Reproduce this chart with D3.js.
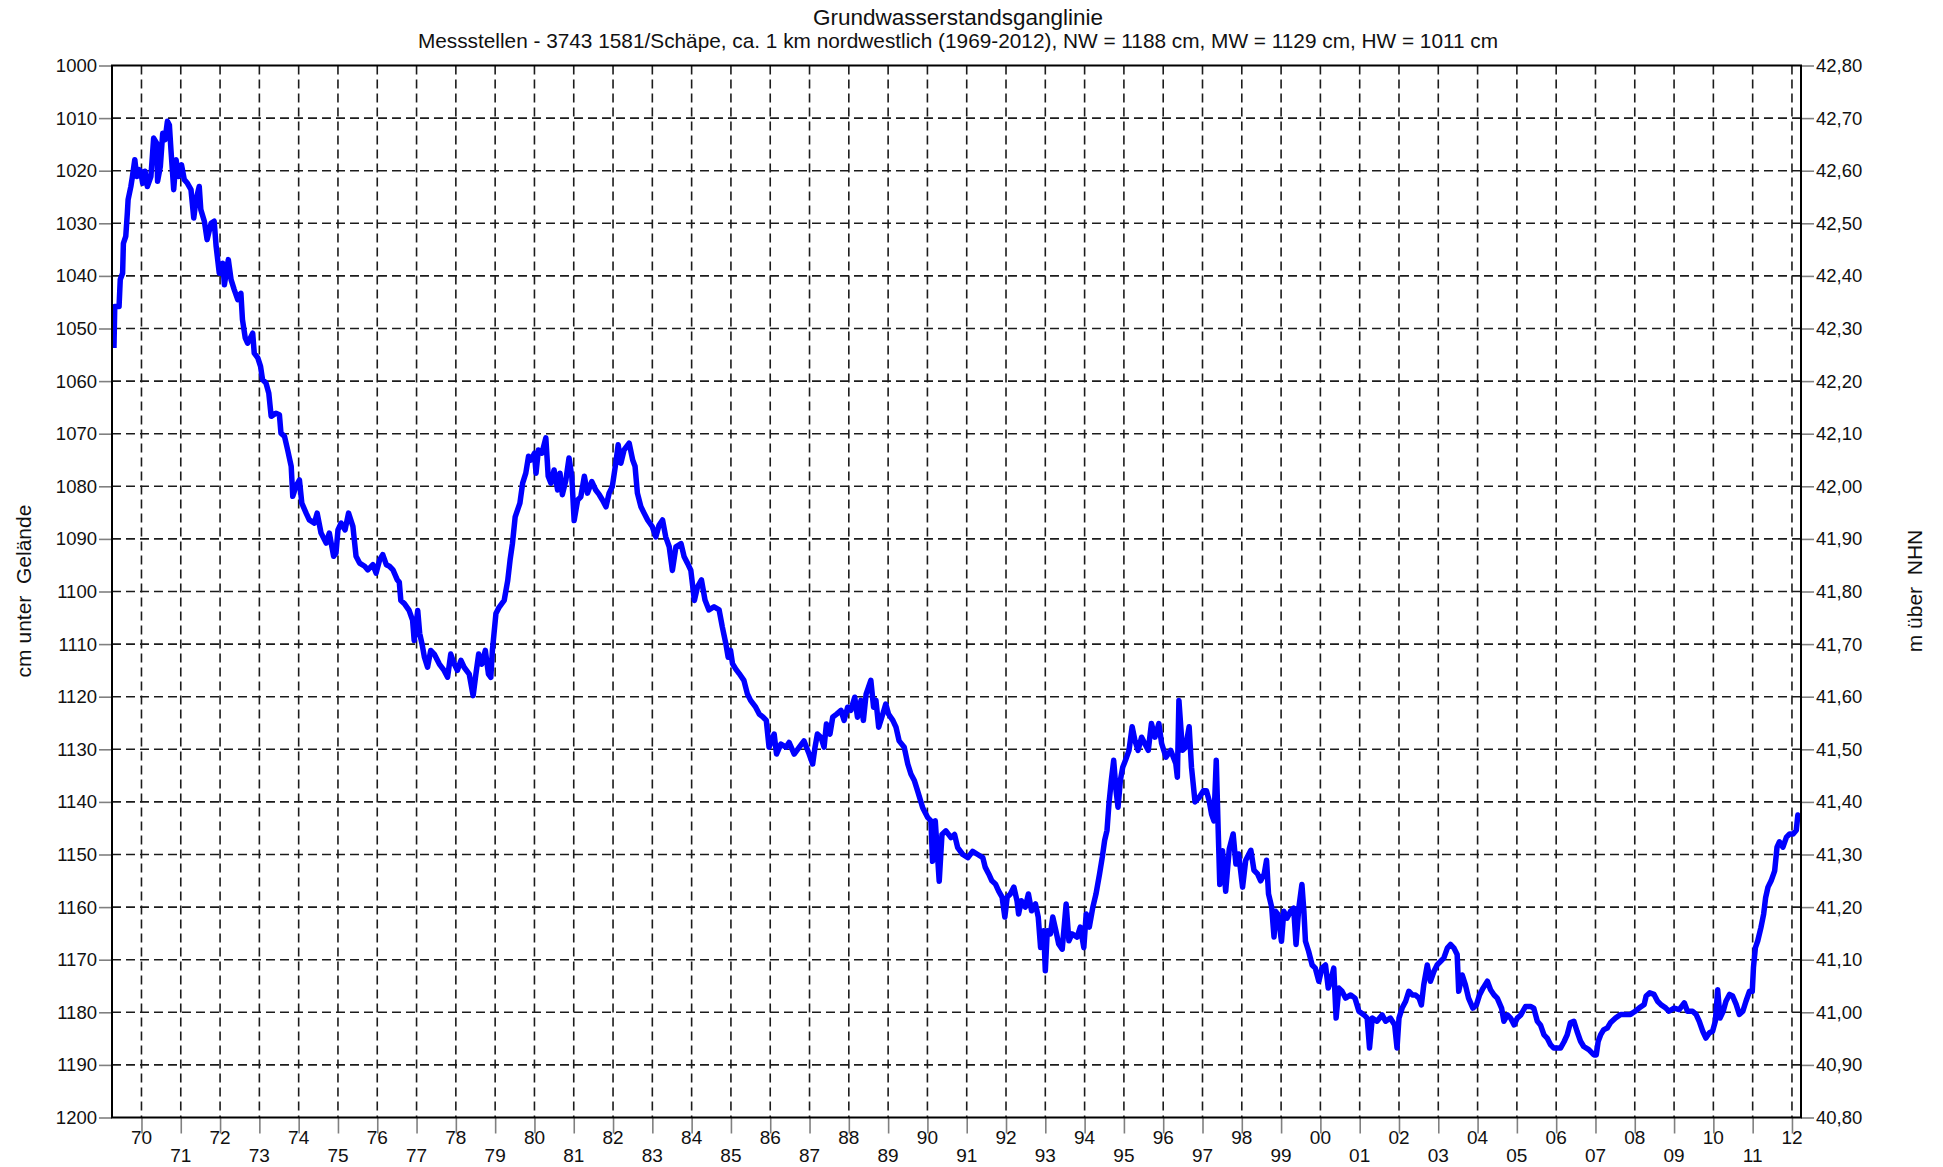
<!DOCTYPE html>
<html><head><meta charset="utf-8">
<script src="https://cdn.jsdelivr.net/npm/d3@7/dist/d3.min.js"></script>
<style>
body{margin:0;background:#fff}
svg{display:block}
text{font-family:"Liberation Sans",Arial,Helvetica,sans-serif;fill:#111}
</style>
</head><body>
<svg id="chart" width="1943" height="1167"></svg>
<script>
const chartTitle = "Grundwasserstandsganglinie";
const chartSubtitle = "Messstellen - 3743 1581/Schäpe, ca. 1 km nordwestlich (1969-2012), NW = 1188 cm, MW = 1129 cm, HW = 1011 cm";
const leftAxisTitle = "cm unter  Gelände";
const rightAxisTitle = "m über  NHN";

const yearTicks = [1970,1971,1972,1973,1974,1975,1976,1977,1978,1979,1980,1981,1982,1983,1984,1985,1986,1987,1988,1989,1990,1991,1992,1993,1994,1995,1996,1997,1998,1999,2000,2001,2002,2003,2004,2005,2006,2007,2008,2009,2010,2011,2012];
const yearLabels = ["70","71","72","73","74","75","76","77","78","79","80","81","82","83","84","85","86","87","88","89","90","91","92","93","94","95","96","97","98","99","00","01","02","03","04","05","06","07","08","09","10","11","12"];
const cmTicks = [1000,1010,1020,1030,1040,1050,1060,1070,1080,1090,1100,1110,1120,1130,1140,1150,1160,1170,1180,1190,1200];
const nhnTicks = [42.8,42.7,42.6,42.5,42.4,42.3,42.2,42.1,42.0,41.9,41.8,41.7,41.6,41.5,41.4,41.3,41.2,41.1,41.0,40.9,40.8];

const decimalYear = [
1969.30,1969.32,1969.43,1969.46,1969.52,1969.54,1969.60,1969.64,1969.66,1969.73,1969.77,1969.83,1969.88,1969.94,1969.98,
1970.03,1970.09,1970.15,1970.24,1970.31,1970.39,1970.41,1970.48,1970.54,1970.60,1970.66,1970.71,1970.75,1970.82,1970.88,1970.94,
1971.02,1971.09,1971.17,1971.26,1971.33,1971.39,1971.47,1971.51,1971.60,1971.67,1971.77,1971.85,1971.90,1971.98,
1972.07,1972.11,1972.21,1972.28,1972.36,1972.45,1972.53,1972.57,1972.64,1972.70,1972.79,1972.83,1972.87,1972.96,
1973.03,1973.08,1973.17,1973.24,1973.30,1973.42,1973.51,1973.55,1973.64,1973.72,1973.81,1973.85,1973.93,
1974.02,1974.08,1974.19,1974.27,1974.40,1974.47,1974.57,1974.70,1974.78,1974.89,1974.95,
1975.00,1975.08,1975.18,1975.27,1975.38,1975.46,1975.55,1975.68,1975.76,1975.89,1975.97,
1976.06,1976.14,1976.23,1976.31,1976.40,1976.51,1976.56,1976.60,1976.69,1976.81,1976.90,1976.94,
1977.03,1977.08,1977.14,1977.20,1977.28,1977.36,1977.45,1977.58,1977.70,1977.79,1977.87,1977.96,
1978.04,1978.13,1978.21,1978.34,1978.44,1978.51,1978.58,1978.66,1978.75,1978.83,1978.89,1978.93,
1979.02,1979.10,1979.23,1979.32,1979.38,1979.44,1979.51,1979.63,1979.70,1979.78,1979.85,1979.91,
1980.00,1980.04,1980.10,1980.19,1980.29,1980.35,1980.42,1980.50,1980.59,1980.65,1980.71,1980.80,1980.88,1980.95,
1981.01,1981.10,1981.18,1981.27,1981.35,1981.46,1981.56,1981.65,1981.73,1981.82,1981.90,1981.98,
1982.07,1982.13,1982.20,1982.28,1982.41,1982.50,1982.56,1982.62,1982.71,1982.79,1982.88,
1983.00,1983.09,1983.17,1983.26,1983.34,1983.43,1983.51,1983.60,1983.73,1983.81,1983.90,1983.98,
1984.07,1984.15,1984.25,1984.34,1984.44,1984.57,1984.70,1984.78,1984.87,1984.93,1984.99,
1985.04,1985.12,1985.21,1985.33,1985.42,1985.50,1985.63,1985.72,1985.82,1985.90,1985.97,
1986.10,1986.16,1986.27,1986.40,1986.48,1986.61,1986.74,1986.86,1986.99,
1987.08,1987.14,1987.20,1987.29,1987.37,1987.43,1987.52,1987.59,1987.69,1987.80,1987.88,1987.97,
1988.05,1988.15,1988.22,1988.31,1988.37,1988.44,1988.56,1988.63,1988.69,1988.76,1988.84,1988.94,
1989.01,1989.12,1989.20,1989.28,1989.41,1989.50,1989.58,1989.67,1989.75,1989.88,
1990.01,1990.09,1990.13,1990.20,1990.30,1990.37,1990.47,1990.60,1990.69,1990.77,1990.90,
1991.03,1991.15,1991.28,1991.41,1991.47,1991.56,1991.64,1991.73,1991.81,1991.90,1991.97,
1992.03,1992.11,1992.20,1992.28,1992.32,1992.39,1992.49,1992.57,1992.65,1992.75,1992.82,1992.88,1992.96,
1993.00,1993.05,1993.13,1993.19,1993.27,1993.34,1993.43,1993.53,1993.60,1993.68,1993.81,1993.89,1993.98,
1994.04,1994.12,1994.21,1994.29,1994.38,1994.45,1994.51,1994.57,1994.62,1994.68,1994.74,1994.80,1994.85,1994.91,1994.97,
1995.04,1995.13,1995.21,1995.28,1995.36,1995.45,1995.53,1995.62,1995.70,1995.79,1995.89,1995.96,
1996.07,1996.19,1996.32,1996.36,1996.40,1996.49,1996.57,1996.66,1996.72,1996.81,1996.91,
1997.02,1997.10,1997.17,1997.23,1997.29,1997.35,1997.40,1997.44,1997.51,1997.59,1997.68,1997.78,1997.85,1997.92,
1998.02,1998.10,1998.23,1998.31,1998.40,1998.48,1998.57,1998.63,1998.68,1998.76,1998.82,1998.86,1998.92,
1999.01,1999.07,1999.15,1999.24,1999.32,1999.38,1999.45,1999.53,1999.58,1999.62,1999.70,1999.79,1999.87,1999.96,
2000.04,2000.13,2000.20,2000.26,2000.34,2000.40,2000.47,2000.55,2000.64,2000.77,2000.88,2000.98,
2001.11,2001.19,2001.25,2001.32,2001.44,2001.57,2001.66,2001.78,2001.89,2001.95,
2002.00,2002.08,2002.17,2002.25,2002.34,2002.42,2002.51,2002.57,2002.63,2002.72,2002.80,2002.89,2002.97,
2003.06,2003.14,2003.23,2003.31,2003.40,2003.48,2003.52,2003.61,2003.69,2003.77,2003.88,2003.97,
2004.05,2004.14,2004.25,2004.33,2004.42,2004.50,2004.61,2004.67,2004.76,2004.84,2004.93,
2005.01,2005.10,2005.22,2005.35,2005.43,2005.52,2005.60,2005.69,2005.77,2005.86,2005.94,
2006.03,2006.11,2006.20,2006.28,2006.36,2006.45,2006.53,2006.62,2006.70,2006.83,2006.96,
2007.02,2007.07,2007.13,2007.21,2007.30,2007.38,2007.51,2007.64,2007.77,2007.89,
2008.01,2008.11,2008.24,2008.29,2008.38,2008.49,2008.58,2008.66,2008.79,2008.87,
2009.00,2009.13,2009.26,2009.34,2009.47,2009.56,2009.64,2009.73,2009.81,2009.90,2009.98,
2010.05,2010.11,2010.17,2010.25,2010.32,2010.41,2010.49,2010.58,2010.66,2010.75,2010.83,2010.92,2010.99,
2011.02,2011.07,2011.13,2011.21,2011.28,2011.33,2011.39,2011.47,2011.56,2011.62,2011.68,2011.77,2011.86,2011.94,
2012.03,2012.11,2012.15,2012.20
];

const levelCm = [
1053.7,1045.8,1045.8,1040.7,1039.5,1033.8,1032.5,1028.1,1025.5,1023.0,1021.1,1017.9,1021.1,1019.8,1020.1,
1022.4,1020.1,1023.0,1021.1,1013.8,1014.8,1022.0,1019.2,1012.9,1014.1,1010.6,1011.3,1016.0,1023.6,1017.9,1021.1,
1018.9,1021.7,1022.4,1023.6,1029.0,1025.5,1023.0,1027.4,1029.6,1033.1,1030.0,1029.6,1034.4,1039.5,
1037.6,1041.7,1036.9,1040.7,1042.6,1044.5,1043.3,1048.3,1051.8,1052.8,1051.5,1050.9,1054.7,1055.6,
1057.2,1059.7,1060.4,1062.3,1066.7,1066.1,1066.4,1069.9,1070.5,1073.1,1076.2,1081.9,1080.0,
1078.8,1083.2,1085.1,1086.4,1087.0,1085.1,1088.9,1090.8,1088.9,1093.3,1092.7,
1088.3,1087.0,1088.3,1085.1,1087.6,1093.3,1094.6,1095.2,1095.9,1094.9,1096.5,
1094.0,1093.0,1094.9,1095.2,1095.9,1097.8,1098.2,1101.7,1102.3,1103.6,1105.5,1109.3,
1103.6,1108.0,1110.0,1112.5,1114.4,1111.2,1111.9,1113.8,1115.0,1116.3,1111.9,1113.8,
1115.0,1113.1,1114.4,1115.7,1119.8,1115.7,1111.9,1113.8,1111.2,1115.7,1116.3,1111.2,
1104.2,1103.0,1101.7,1097.9,1094.0,1090.9,1085.8,1083.2,1079.4,1077.5,1074.3,1075.0,
1073.7,1077.5,1073.1,1073.7,1070.8,1078.1,1079.4,1076.9,1080.7,1077.5,1081.6,1078.8,1074.6,1078.1,
1086.5,1082.6,1082.0,1078.1,1081.3,1079.1,1080.7,1081.6,1082.6,1083.9,1081.3,1080.1,
1075.6,1072.1,1075.6,1073.1,1071.8,1075.0,1076.2,1081.3,1083.9,1085.1,1086.4,
1087.7,1089.6,1087.4,1086.4,1089.6,1091.5,1096.0,1091.5,1090.9,1093.4,1094.7,1096.0,
1101.7,1099.1,1097.8,1101.6,1103.5,1102.9,1103.5,1106.7,1109.9,1112.5,1111.2,
1113.7,1114.7,1115.6,1116.9,1119.5,1120.7,1122.0,1123.3,1123.9,1124.5,1129.6,
1127.1,1130.9,1129.0,1129.6,1128.7,1130.9,1129.6,1128.4,1130.9,
1132.8,1129.6,1127.1,1127.7,1129.6,1125.2,1127.1,1123.9,1123.3,1122.6,1124.5,1122.0,
1122.6,1120.1,1123.9,1120.7,1124.5,1119.5,1116.9,1122.0,1120.7,1125.8,1123.9,1121.4,
1123.3,1124.5,1125.8,1128.4,1129.6,1132.8,1134.7,1136.0,1137.9,1141.1,
1143.0,1143.6,1151.3,1143.6,1155.1,1146.2,1145.5,1146.8,1146.2,1148.7,1150.0,
1150.6,1149.4,1150.0,1150.6,1152.4,1153.7,1155.0,1155.6,1156.9,1158.1,1161.9,
1158.1,1157.5,1156.2,1158.8,1161.3,1158.8,1160.0,1157.5,1160.7,1159.4,1161.9,1167.7,1164.5,
1172.1,1164.5,1165.1,1161.9,1164.5,1167.0,1168.0,1159.4,1166.4,1165.1,1165.7,1163.8,1167.7,
1161.3,1163.8,1160.0,1157.5,1153.7,1150.5,1147.3,1145.4,1140.3,1135.9,1132.1,1137.8,1141.0,1135.9,1133.4,
1132.1,1130.2,1125.7,1128.3,1130.2,1127.7,1128.9,1130.2,1125.1,1127.7,1125.1,1128.9,
1131.5,1130.2,1132.7,1135.3,1120.7,1130.2,1129.6,1125.7,1133.4,1140.0,1139.2,
1137.9,1137.9,1139.8,1142.3,1143.6,1132.1,1145.5,1155.7,1149.3,1157.0,1149.0,1146.1,1151.8,1149.9,
1156.2,1151.1,1149.2,1153.0,1153.7,1155.0,1153.7,1151.1,1157.5,1160.0,1165.7,1160.8,1161.4,
1166.5,1160.8,1162.1,1160.8,1160.2,1167.1,1160.2,1155.7,1160.8,1166.5,1168.4,1171.0,1171.6,1174.1,
1171.6,1171.0,1175.4,1174.1,1171.6,1181.1,1175.4,1176.0,1177.3,1176.7,1177.3,1179.8,
1180.5,1181.1,1186.8,1181.1,1181.7,1180.5,1181.7,1181.1,1182.4,1186.8,
1181.1,1179.2,1177.9,1176.0,1176.7,1176.7,1177.3,1178.6,1174.8,1171.0,1174.1,1172.2,1171.0,
1170.3,1169.7,1167.8,1167.1,1167.8,1169.0,1176.0,1172.9,1174.8,1177.3,1179.2,1178.6,
1176.7,1175.4,1174.1,1175.7,1176.7,1177.3,1179.2,1181.7,1180.5,1181.1,1182.4,
1181.1,1180.5,1178.9,1178.9,1179.2,1181.7,1182.4,1184.3,1184.9,1186.2,1186.8,
1186.8,1186.8,1185.6,1184.3,1182.0,1181.7,1183.6,1185.5,1186.5,1187.1,1188.1,
1188.1,1185.5,1184.3,1183.3,1183.0,1182.0,1181.1,1180.4,1180.4,1180.4,
1179.8,1179.2,1178.5,1176.9,1176.3,1176.6,1177.9,1178.5,1179.2,1179.8,
1179.2,1179.5,1178.2,1179.8,1179.8,1180.4,1181.7,1183.6,1184.9,1183.9,1183.6,
1181.7,1175.7,1181.1,1179.8,1177.9,1176.6,1176.9,1178.5,1180.4,1179.8,1177.9,1176.0,1176.0,
1171.5,1167.7,1166.4,1163.9,1161.3,1158.2,1156.2,1155.0,1153.1,1148.6,1147.6,1148.6,1146.7,1146.1,
1146.1,1145.4,1142.5,1142.9
];

const svg = d3.select("#chart");
const plot = {left: 112, right: 1801, top: 65.5, bottom: 1117.5};

const x = d3.scaleLinear().domain([1969.25, 2012.23]).range([plot.left, plot.right]);
const y = d3.scaleLinear().domain([1000, 1200]).range([plot.top, plot.bottom]);
const yR = d3.scaleLinear().domain([42.8, 40.8]).range([plot.top, plot.bottom]);

// grid
const grid = svg.append("g").attr("stroke", "#1c1c1c").attr("stroke-width", 1.6).attr("stroke-dasharray", "9,5");
grid.selectAll("line.h").data(cmTicks.slice(1, -1)).join("line")
  .attr("x1", plot.left).attr("x2", plot.right)
  .attr("y1", d => y(d)).attr("y2", d => y(d));
grid.selectAll("line.v").data(yearTicks).join("line")
  .attr("y1", plot.top).attr("y2", plot.bottom)
  .attr("x1", d => x(d)).attr("x2", d => x(d));

// data line
svg.append("clipPath").attr("id", "clip").append("rect")
  .attr("x", plot.left).attr("y", plot.top).attr("width", plot.right - plot.left).attr("height", plot.bottom - plot.top);
const series = decimalYear.map((t, i) => [t, levelCm[i]]);
svg.append("path").datum(series)
  .attr("clip-path", "url(#clip)")
  .attr("fill", "none").attr("stroke", "#0000ff").attr("stroke-width", 5.5)
  .attr("stroke-linejoin", "round")
  .attr("d", d3.line().x(d => x(d[0])).y(d => y(d[1])));

// axes (ticks only, styled)
const fmtR = d => d3.format(".2f")(d).replace(".", ",");
const leftAxis = d3.axisLeft(y).tickValues(cmTicks).tickSize(13).tickPadding(2).tickFormat(d3.format("d"));
const rightAxis = d3.axisRight(yR).tickValues(nhnTicks).tickSize(13).tickPadding(2).tickFormat(fmtR);
const bottomAxis = d3.axisBottom(x).tickValues(yearTicks).tickSize(16).tickFormat("");

function styleAxis(g) {
  g.select(".domain").remove();
  g.selectAll(".tick line").attr("stroke", "#808080").attr("stroke-width", 1.6);
  g.selectAll(".tick text").attr("fill", "#111").style("font-size", "18.5px")
    .style("font-family", '"Liberation Sans", Arial, sans-serif');
}
svg.append("g").attr("transform", `translate(${plot.left},0)`).call(leftAxis).call(styleAxis);
svg.append("g").attr("transform", `translate(${plot.right},0)`).call(rightAxis).call(styleAxis);
svg.append("g").attr("transform", `translate(0,${plot.bottom})`).call(bottomAxis).call(styleAxis);

// two-row year labels
svg.append("g").selectAll("text").data(yearTicks).join("text")
  .attr("x", d => x(d))
  .attr("y", (d, i) => i % 2 === 0 ? 1144 : 1162)
  .attr("text-anchor", "middle")
  .style("font-size", "19px")
  .text((d, i) => yearLabels[i]);

// frame
svg.append("rect").attr("x", plot.left).attr("y", plot.top)
  .attr("width", plot.right - plot.left).attr("height", plot.bottom - plot.top)
  .attr("fill", "none").attr("stroke", "#000").attr("stroke-width", 2);

// titles
svg.append("text").attr("x", 958).attr("y", 24.5).attr("text-anchor", "middle")
  .style("font-size", "22.5px").text(chartTitle);
svg.append("text").attr("x", 958).attr("y", 48).attr("text-anchor", "middle")
  .style("font-size", "20.8px").text(chartSubtitle);
svg.append("text").attr("transform", "translate(31,591) rotate(-90)").attr("text-anchor", "middle")
  .style("font-size", "21px").style("white-space", "pre").text(leftAxisTitle);
svg.append("text").attr("transform", "translate(1922,591) rotate(-90)").attr("text-anchor", "middle")
  .style("font-size", "21px").style("white-space", "pre").text(rightAxisTitle);
</script>
</body></html>
